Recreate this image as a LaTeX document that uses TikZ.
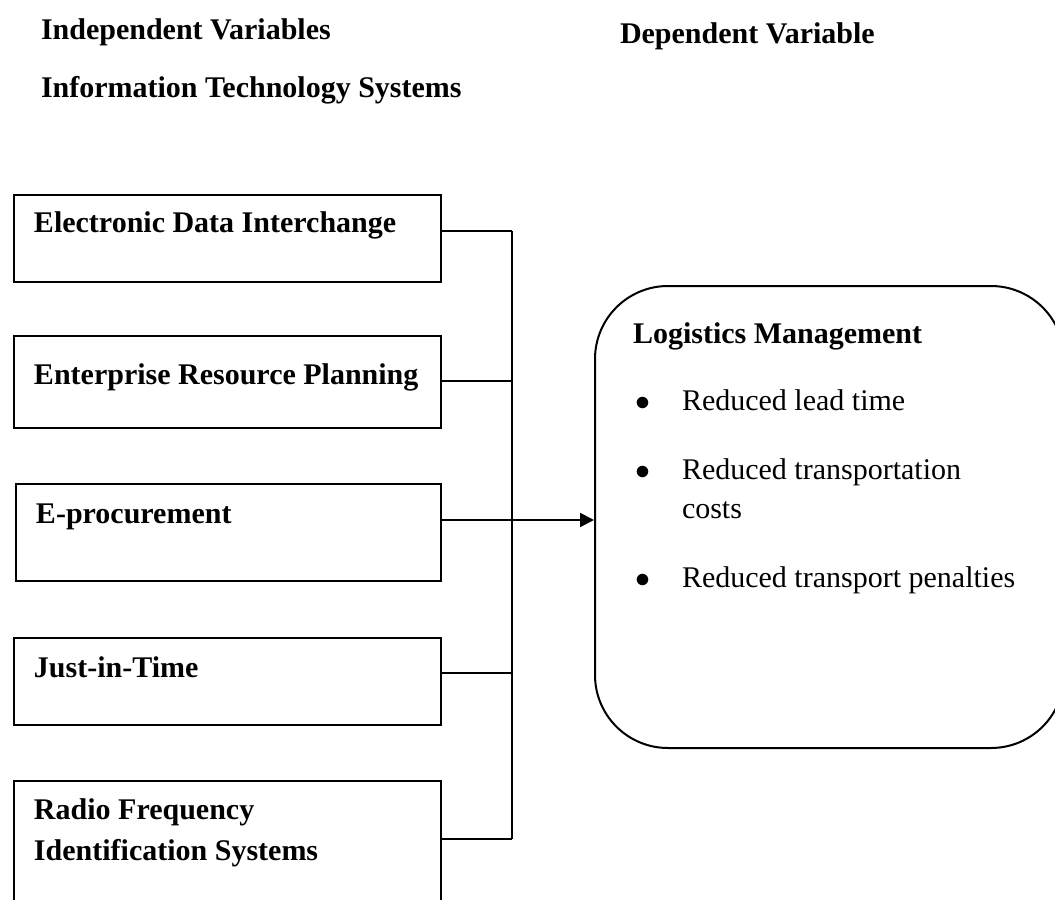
\documentclass[tikz,border=0pt]{standalone}
\usepackage{fontspec}
\setmainfont{Liberation Serif}
\usetikzlibrary{arrows.meta}
\begin{document}
\begin{tikzpicture}[x=0.4pt, y=0.4pt, line width=0.8pt,
    box/.style={draw, rectangle, anchor=north west, minimum width=170.8pt, inner sep=0pt},
    txt/.style={anchor=base west, inner sep=0pt, font=\fontsize{12pt}{14pt}\selectfont},
    head/.style={txt, font=\fontsize{12pt}{14pt}\selectfont\bfseries}]
  \clip (0,0) rectangle (1055,-900);

  \node[head] (indep) at (40,-40) {Independent Variables};
  \node[head] (dep) at (619,-43) {Dependent Variable};
  \node[head] (its) at (40,-98) {Information Technology Systems};

  % independent variables
  \node[box, minimum height=34.8pt] (edi) at (13,-194) {};
  \node[box, minimum height=36.8pt] (erp) at (13,-335) {};
  \node[box, minimum height=38.8pt, minimum width=170pt] (eproc) at (15,-483) {};
  \node[box, minimum height=34.8pt] (jit) at (13,-637) {};
  \node[box, minimum height=60pt] (rfid) at (13,-780) {};

  \node[head] (edit) at (33,-232) {Electronic Data Interchange};
  \node[head] (erpt) at (33,-384) {Enterprise Resource Planning};
  \node[head] (eproct) at (35,-523) {E-procurement};
  \node[head] (jitt) at (33,-677) {Just-in-Time};
  \node[head] (rfida) at (33,-819) {Radio Frequency};
  \node[head] (rfidb) at (33,-860) {Identification Systems};

  % dependent variable
  \node[draw, rectangle, rounded corners=29.2pt, anchor=north west,
    minimum width=187.6pt, minimum height=184.8pt] (lm) at (594,-285) {};
  \node[head] (lmt) at (632,-343) {Logistics Management};
  \foreach \y/\t [count=\i] in {410/Reduced lead time, 479/Reduced transportation, 587/Reduced transport penalties}
  {
    \node[txt] (dot\i) at (634,-\y) {$\bullet$};
    \node[txt] (item\i) at (681,-\y) {\t};
  }
  \node[txt] (item2b) at (681,-518) {costs};

  % connectors
  \coordinate (bus1) at (512,-231);
  \coordinate (bus2) at (512,-381);
  \coordinate (bus3) at (512,-520);
  \coordinate (bus4) at (512,-673);
  \coordinate (bus5) at (512,-839);
  \draw (edi.east |- bus1) -- (bus1);
  \draw (erp.east |- bus2) -- (bus2);
  \draw (jit.east |- bus4) -- (bus4);
  \draw (rfid.east |- bus5) -- (bus5);
  \draw (bus1) -- (bus5);
  \draw[-{Triangle[length=5.6pt,width=5.6pt]}] (eproc.east |- bus3) -- (lm.west |- bus3);
\end{tikzpicture}
\end{document}
